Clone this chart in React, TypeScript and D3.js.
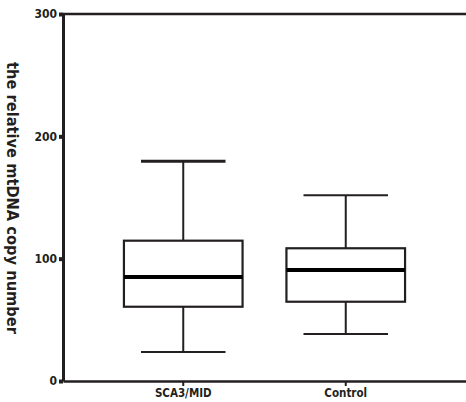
import React, { useRef, useEffect } from "react";
import * as d3 from "d3";

// box statistics
const groups = ["SCA3/MID", "Control"];
const whiskerMin = [23.7, 38.4];
const quartile1 = [60.7, 64.8];
const medians = [85, 90.7];
const quartile3 = [114.7, 108.5];
const whiskerMax = [179.6, 151.8];
const yTicks = [0, 100, 200, 300];

const INK = "#231f20";
const FONT = "'DejaVu Sans Condensed', 'DejaVu Sans', sans-serif";

const App = () => {
  const svgRef = useRef<SVGSVGElement>(null);

  useEffect(() => {
    const width = 466;
    const height = 402;
    const margin = { top: 14, right: 0, bottom: 21, left: 63 };

    const svg = d3.select(svgRef.current);
    svg.selectAll("*").remove();
    svg.attr("width", width).attr("height", height);

    const x = d3
      .scaleBand()
      .domain(groups)
      .range([margin.left, width - margin.right])
      .paddingInner(0)
      .paddingOuter(0.24);

    const y = d3
      .scaleLinear()
      .domain([0, 300])
      .range([height - margin.bottom, margin.top]);

    const boxW = x.step() * 0.73;
    const capW = x.step() * 0.52;

    const data = groups.map((g, i) => ({
      group: g,
      min: whiskerMin[i],
      q1: quartile1[i],
      median: medians[i],
      q3: quartile3[i],
      max: whiskerMax[i],
    }));

    const box = svg
      .selectAll(".box")
      .data(data)
      .enter()
      .append("g")
      .attr("transform", (d) => `translate(${x(d.group)! + x.bandwidth() / 2},0)`);

    // whiskers
    box
      .append("line")
      .attr("y1", (d) => y(d.max))
      .attr("y2", (d) => y(d.q3))
      .attr("stroke", INK)
      .attr("stroke-width", 2);
    box
      .append("line")
      .attr("y1", (d) => y(d.q1))
      .attr("y2", (d) => y(d.min))
      .attr("stroke", INK)
      .attr("stroke-width", 2);

    // caps
    box
      .append("line")
      .attr("x1", -capW / 2)
      .attr("x2", capW / 2)
      .attr("y1", (d) => y(d.max))
      .attr("y2", (d) => y(d.max))
      .attr("stroke", INK)
      .attr("stroke-width", (d, i) => (i === 0 ? 3 : 2));
    box
      .append("line")
      .attr("x1", -capW / 2)
      .attr("x2", capW / 2)
      .attr("y1", (d) => y(d.min))
      .attr("y2", (d) => y(d.min))
      .attr("stroke", INK)
      .attr("stroke-width", 2);

    // boxes
    box
      .append("rect")
      .attr("x", -boxW / 2)
      .attr("width", boxW)
      .attr("y", (d) => y(d.q3))
      .attr("height", (d) => y(d.q1) - y(d.q3))
      .attr("fill", "white")
      .attr("stroke", INK)
      .attr("stroke-width", 2.2);

    // medians
    box
      .append("line")
      .attr("x1", -boxW / 2)
      .attr("x2", boxW / 2)
      .attr("y1", (d) => y(d.median))
      .attr("y2", (d) => y(d.median))
      .attr("stroke", "#000")
      .attr("stroke-width", 4);

    // frame: top line
    svg
      .append("line")
      .attr("x1", margin.left)
      .attr("x2", width)
      .attr("y1", y(300))
      .attr("y2", y(300))
      .attr("stroke", INK)
      .attr("stroke-width", 2.5);

    // x axis
    const xAxis = svg
      .append("g")
      .attr("transform", `translate(0,${y(0)})`)
      .call(d3.axisBottom(x).tickSize(5).tickSizeOuter(0).tickPadding(3));
    xAxis.select(".domain").attr("stroke", INK).attr("stroke-width", 2.5);
    xAxis.selectAll(".tick line").attr("stroke", INK).attr("stroke-width", 2);
    xAxis
      .selectAll(".tick text")
      .attr("fill", INK)
      .style("font-family", FONT)
      .style("font-size", "11.5px")
      .style("font-weight", "bold");

    // y axis
    const yAxis = svg
      .append("g")
      .attr("transform", `translate(${margin.left},0)`)
      .call(d3.axisLeft(y).tickValues(yTicks).tickSize(4).tickSizeOuter(0).tickPadding(2));
    yAxis.select(".domain").attr("stroke", INK).attr("stroke-width", 3);
    yAxis.selectAll(".tick line").attr("stroke", INK).attr("stroke-width", 4);
    yAxis
      .selectAll(".tick text")
      .attr("fill", INK)
      .style("font-family", FONT)
      .style("font-size", "12px")
      .style("font-weight", "bold");

    // y axis title
    svg
      .append("text")
      .attr("transform", `translate(12, ${(62 + 334) / 2}) rotate(90)`)
      .attr("text-anchor", "middle")
      .attr("dominant-baseline", "central")
      .attr("fill", INK)
      .style("font-family", FONT)
      .style("font-size", "15px")
      .style("font-weight", "bold")
      .attr("textLength", 272)
      .attr("lengthAdjust", "spacingAndGlyphs")
      .text("the relative mtDNA copy number");
  }, []);

  return (
    <div style={{ position: "absolute", left: 0, top: 0, background: "white" }}>
      <svg ref={svgRef} style={{ display: "block" }} />
    </div>
  );
};

export default App;
